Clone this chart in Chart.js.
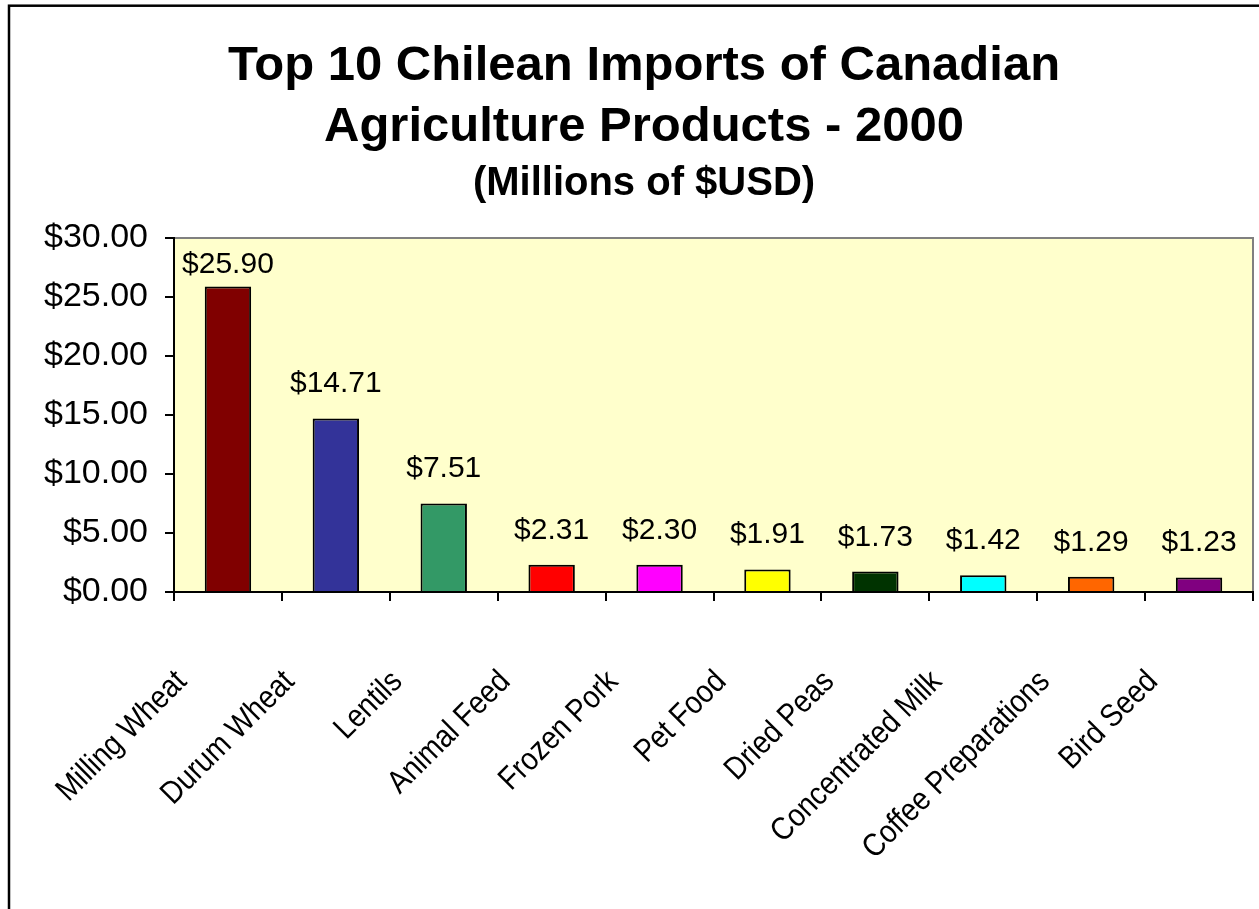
<!DOCTYPE html>
<html>
<head>
<meta charset="utf-8">
<title>Top 10 Chilean Imports of Canadian Agriculture Products - 2000</title>
<script src="https://cdn.jsdelivr.net/npm/chart.js@4.4.1/dist/chart.umd.min.js"></script>
<style>
  html, body { margin: 0; padding: 0; background: #fff; overflow: hidden; }
  #wrap { width: 1259px; height: 909px; position: relative; }
</style>
</head>
<body>
<div id="wrap"><canvas id="chart"></canvas></div>
<script>
const products = [
  "Milling Wheat", "Durum Wheat", "Lentils", "Animal Feed", "Frozen Pork",
  "Pet Food", "Dried Peas", "Concentrated Milk", "Coffee Preparations", "Bird Seed"
];
const values = [25.90, 14.71, 7.51, 2.31, 2.30, 1.91, 1.73, 1.42, 1.29, 1.23];
const barColors = [
  "#800000", "#333399", "#339966", "#FF0000", "#FF00FF",
  "#FFFF00", "#003300", "#00FFFF", "#FF6600", "#800080"
];
const titleLines = ["Top 10 Chilean Imports of Canadian", "Agriculture Products - 2000"];
const subtitleText = "(Millions of $USD)";
const yMin = 0, yMax = 30, yStep = 5;

const FONT = "'Liberation Sans', Arial, sans-serif";
const money = v => "$" + v.toFixed(2);

// yellow plot background, grey top/right edge and the outer frame
const frame = {
  id: "frame",
  beforeDraw(chart) {
    const { ctx, chartArea: a } = chart;
    ctx.save();
    ctx.fillStyle = "#FFFFCC";
    ctx.fillRect(a.left, a.top, a.right - a.left, a.bottom - a.top);
    ctx.strokeStyle = "#808080";
    ctx.lineWidth = 2;
    ctx.beginPath();
    ctx.moveTo(a.left, a.top);
    ctx.lineTo(a.right, a.top);
    ctx.lineTo(a.right, a.bottom);
    ctx.stroke();
    ctx.strokeStyle = "#000";
    ctx.lineWidth = 2.5;
    ctx.strokeRect(9, 5.7, 1600, 1600);
    ctx.restore();
  }
};

// "$x.xx" above each bar, kept inside the plot area
const valueLabels = {
  id: "valueLabels",
  afterDatasetsDraw(chart) {
    const { ctx, chartArea: a } = chart;
    const meta = chart.getDatasetMeta(0);
    ctx.save();
    ctx.font = "30px " + FONT;
    ctx.fillStyle = "#000";
    ctx.textAlign = "center";
    ctx.textBaseline = "alphabetic";
    meta.data.forEach((bar, i) => {
      const y = Math.max(bar.y - 26, a.top + 35);
      ctx.fillText(money(values[i]), bar.x, y);
    });
    ctx.restore();
  }
};

// slanted, slightly narrowed category names under the axis
const categoryLabels = {
  id: "categoryLabels",
  afterDraw(chart) {
    const { ctx } = chart;
    const xs = chart.scales.x;
    ctx.save();
    ctx.font = "32px " + FONT;
    ctx.fillStyle = "#000";
    ctx.textAlign = "right";
    ctx.textBaseline = "alphabetic";
    products.forEach((name, i) => {
      ctx.save();
      ctx.translate(xs.getPixelForValue(i) - 40, xs.top + 91);
      ctx.rotate(-Math.PI / 4);
      ctx.scale(0.88, 1);
      ctx.fillText(name, 0, 0);
      ctx.restore();
    });
    ctx.restore();
  }
};

new Chart(document.getElementById("chart"), {
  type: "bar",
  data: {
    labels: products,
    datasets: [{
      data: values,
      backgroundColor: barColors,
      borderColor: "#000",
      borderWidth: 2,
      barPercentage: 0.43,
      categoryPercentage: 1
    }]
  },
  options: {
    responsive: true,
    maintainAspectRatio: false,
    animation: false,
    layout: { padding: { left: 35, right: 6, top: 0, bottom: 0 } },
    plugins: {
      legend: { display: false },
      tooltip: { enabled: false },
      title: {
        display: true,
        text: titleLines,
        color: "#000",
        font: { family: FONT, size: 49, weight: "bold", lineHeight: 1.25 },
        padding: { top: 36, bottom: 0 }
      },
      subtitle: {
        display: true,
        text: subtitleText,
        color: "#000",
        font: { family: FONT, size: 40, weight: "bold", lineHeight: 1.2 },
        padding: { top: 1, bottom: 30.5 }
      }
    },
    scales: {
      x: {
        grid: {
          display: true,
          drawOnChartArea: false,
          drawTicks: true,
          tickLength: 9,
          color: "#000",
          lineWidth: 2,
          offset: true
        },
        border: { color: "#000", width: 2 },
        ticks: { display: false },
        afterFit(s) { s.height = 317; }
      },
      y: {
        min: yMin,
        max: yMax,
        ticks: {
          stepSize: yStep,
          callback: v => money(v),
          color: "#000",
          font: { family: FONT, size: 34 },
          padding: 17
        },
        grid: {
          drawOnChartArea: false,
          tickLength: 9,
          color: "#000",
          lineWidth: 2
        },
        border: { color: "#000", width: 2 },
        afterFit(s) { s.width = 139; }
      }
    }
  },
  plugins: [frame, valueLabels, categoryLabels]
});
</script>
</body>
</html>
